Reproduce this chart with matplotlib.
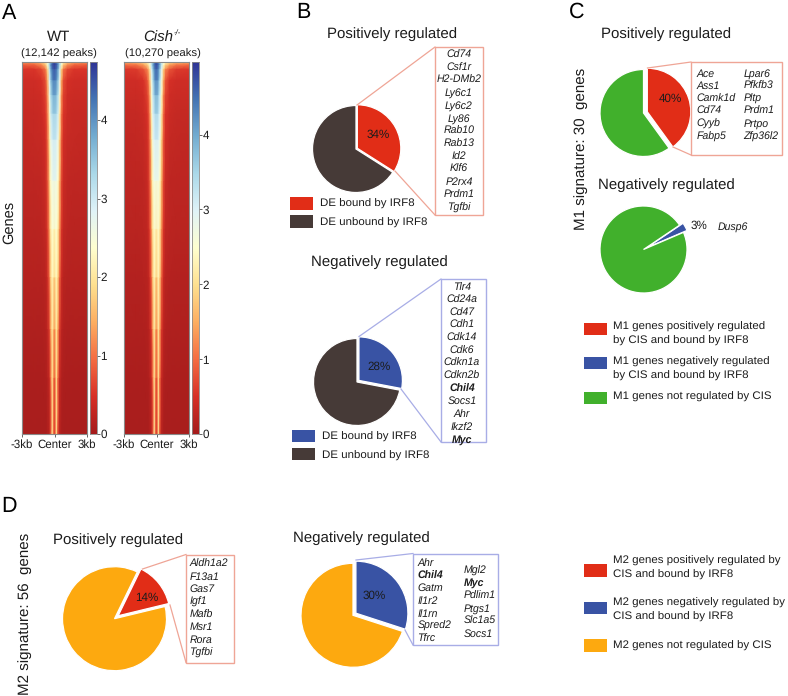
import numpy as np
import matplotlib
matplotlib.use("Agg")
import matplotlib.pyplot as plt
from matplotlib.colors import LinearSegmentedColormap
from matplotlib.patches import Rectangle

plt.rcParams["font.family"] = ["Liberation Sans", "DejaVu Sans"]
plt.rcParams["text.hinting"] = "no_hinting"
plt.rcParams["text.hinting_factor"] = 8

W, H = 788, 696
TXT = "#1c1c1c"
RED = "#E12D17"
BLUE = "#3953A4"
DARK = "#463A37"
GREEN = "#41B02C"
ORANGE = "#FDA90F"
RED_BOX = "#EFA596"
BLUE_BOX = "#A8ADE6"

# heatmap profiles: distance from the peak centre (kb), peak rank (0 top, 1 bottom)
offset_kb = [0, 0.09, 0.2, 0.32, 0.46, 0.65, 0.83, 1.2, 1.85, 3.0]
rank = [0, 0.008, 0.02, 0.05, 0.09, 0.14, 0.21, 0.32, 0.45, 0.58, 0.72, 0.85, 1.0]
wt_signal = [
    [4.5, 4.4, 4.2, 3.8, 3.2, 2.5, 2.0, 1.6, 1.3, 1.2],
    [4.7, 4.6, 4.5, 4.1, 3.4, 2.4, 1.7, 1.2, 0.9, 0.85],
    [4.5, 4.4, 4.3, 3.9, 3.1, 1.8, 1.0, 0.65, 0.5, 0.5],
    [4.2, 4.2, 4.0, 3.6, 2.8, 1.4, 0.7, 0.45, 0.4, 0.4],
    [3.8, 3.8, 3.6, 3.3, 2.5, 1.2, 0.6, 0.4, 0.36, 0.36],
    [3.4, 3.4, 3.3, 3.0, 2.2, 1.0, 0.5, 0.36, 0.33, 0.32],
    [3.0, 3.0, 2.9, 2.7, 1.9, 0.85, 0.42, 0.32, 0.3, 0.28],
    [2.7, 2.7, 2.6, 2.4, 1.6, 0.7, 0.36, 0.27, 0.25, 0.25],
    [2.2, 2.3, 2.4, 2.1, 1.3, 0.55, 0.28, 0.22, 0.2, 0.2],
    [1.8, 2.0, 2.2, 1.8, 0.95, 0.38, 0.2, 0.16, 0.15, 0.15],
    [1.2, 1.5, 2.0, 1.4, 0.6, 0.25, 0.14, 0.1, 0.1, 0.1],
    [0.8, 1.2, 1.9, 1.0, 0.35, 0.14, 0.09, 0.07, 0.07, 0.07],
    [0.5, 0.9, 1.9, 0.7, 0.2, 0.08, 0.05, 0.05, 0.05, 0.05],
]
cish_signal = [
    [4.7, 4.6, 4.3, 3.7, 3.1, 2.6, 2.2, 1.9, 1.6, 1.5],
    [4.8, 4.7, 4.5, 4.0, 3.3, 2.5, 1.9, 1.4, 1.1, 1.0],
    [4.6, 4.5, 4.3, 3.7, 3.0, 1.9, 1.2, 0.8, 0.6, 0.55],
    [4.3, 4.3, 4.0, 3.4, 2.7, 1.5, 0.8, 0.5, 0.42, 0.42],
    [3.9, 3.9, 3.6, 3.2, 2.4, 1.2, 0.65, 0.42, 0.37, 0.37],
    [3.5, 3.5, 3.3, 3.0, 2.2, 1.0, 0.52, 0.37, 0.33, 0.33],
    [3.1, 3.1, 3.0, 2.7, 1.9, 0.85, 0.43, 0.32, 0.3, 0.28],
    [2.7, 2.7, 2.7, 2.4, 1.6, 0.7, 0.36, 0.27, 0.25, 0.25],
    [2.2, 2.3, 2.4, 2.1, 1.3, 0.55, 0.28, 0.22, 0.2, 0.2],
    [1.8, 2.0, 2.3, 1.8, 0.95, 0.38, 0.2, 0.16, 0.15, 0.15],
    [1.2, 1.5, 2.1, 1.4, 0.6, 0.25, 0.14, 0.1, 0.1, 0.1],
    [0.8, 1.2, 2.0, 1.0, 0.35, 0.14, 0.09, 0.07, 0.07, 0.07],
    [0.5, 0.9, 2.0, 0.7, 0.2, 0.08, 0.05, 0.05, 0.05, 0.05],
]
wt_vmax = 4.74
cish_vmax = 4.97
cbar_ticks = [0, 1, 2, 3, 4]

# pie shares (%)
b_pos = [34, 66]
b_neg = [28, 72]
c_pos = [40, 60]
c_neg = [3, 97]
d_pos = [14, 86]
d_neg = [30, 70]

# gene lists
b_pos_genes = ["Cd74", "Csf1r", "H2-DMb2", "Ly6c1", "Ly6c2", "Ly86", "Rab10", "Rab13",
               "Id2", "Klf6", "P2rx4", "Prdm1", "Tgfbi"]
b_neg_genes = ["Tlr4", "Cd24a", "Cd47", "Cdh1", "Cdk14", "Cdk6", "Cdkn1a", "Cdkn2b",
               "Chil4", "Socs1", "Ahr", "Ikzf2", "Myc"]
c_pos_left = ["Ace", "Ass1", "Camk1d", "Cd74", "Cyyb", "Fabp5"]
c_pos_right = ["Lpar6", "Pfkfb3", "Pltp", "Prdm1", "Prtpo", "Zfp36l2"]
d_pos_genes = ["Aldh1a2", "F13a1", "Gas7", "Igf1", "Mafb", "Msr1", "Rora", "Tgfbi"]
d_neg_left = ["Ahr", "Chil4", "Gatm", "Il1r2", "Il1rn", "Spred2", "Tfrc"]
d_neg_right = ["Mgl2", "Myc", "Pdlim1", "Ptgs1", "Slc1a5", "Socs1"]
bold_genes = ["Chil4", "Myc"]

cmap = LinearSegmentedColormap.from_list(
    "peaks",
    ["#A51C1C", "#D73027", "#F46D43", "#FDAE61", "#FEE090", "#FFFFD0",
     "#E0F3F8", "#ABD9E9", "#74ADD1", "#4575B4", "#2F3596"],
)

fig = plt.figure(figsize=(W / 100, H / 100), dpi=100)


def px_axes(x0, y0, x1, y1):
    return fig.add_axes([x0 / W, 1 - y1 / H, (x1 - x0) / W, (y1 - y0) / H])


def heatmap(signal, vmax, x0, cb_x0):
    ax = px_axes(x0, 62, x0 + 65, 434)
    half = np.array(signal)
    grid = np.hstack([half[:, :0:-1], half])
    off = np.array(offset_kb)
    xs = np.concatenate([-off[:0:-1], off])
    ax.pcolormesh(xs, rank, grid, cmap=cmap, vmin=0, vmax=vmax, shading="gouraud")
    ax.set_xlim(-3, 3)
    ax.set_ylim(1, 0)
    ax.set_yticks([])
    ax.set_xticks([-3, 0, 3])
    ax.set_xticklabels(["-3kb", "Center", "3kb"], fontsize=8.3, color=TXT)
    ax.tick_params(axis="x", length=2, width=0.7, color="#666666", pad=1.5)
    for s in ax.spines.values():
        s.set_color("#8a8a8a")
        s.set_linewidth(0.8)

    cb = px_axes(cb_x0, 62, cb_x0 + 6.5, 434)
    levels = np.linspace(0, vmax, 256).reshape(-1, 1)
    cb.imshow(levels, cmap=cmap, vmin=0, vmax=vmax, origin="lower", aspect="auto",
              extent=[0, 1, 0, vmax])
    cb.set_xticks([])
    cb.yaxis.tick_right()
    cb.set_yticks(cbar_ticks)
    cb.tick_params(axis="y", length=2, width=0.7, color="#666666", pad=0.8,
                   labelsize=8.4, labelcolor=TXT)
    for s in cb.spines.values():
        s.set_color("#8a8a8a")
        s.set_linewidth(0.6)


heatmap(wt_signal, wt_vmax, 22, 90)
heatmap(cish_signal, cish_vmax, 124, 192)

# everything else sits on one overlay in picture pixels (y flipped for the pies)
ax = fig.add_axes([0, 0, 1, 1])
ax.set_xlim(0, W)
ax.set_ylim(0, H)
ax.set_autoscale_on(False)


def txt(x, y, s, size=8.25, ha="left", **kw):
    kw.setdefault("color", TXT)
    return ax.text(x, H - y, s, fontsize=size, ha=ha, va="center", **kw)


def pie(values, colors, cx, cy, r, explode, start=0):
    # explode is in axis units here, so pixels
    ax.pie(values, colors=colors, explode=[explode, 0], center=(cx, H - cy), radius=r,
           startangle=90 - start, counterclock=False, frame=True,
           wedgeprops={"edgecolor": "white", "linewidth": 0.9})


def callout(x0, y0, x1, y1, color, p_top, p_bot):
    ax.add_patch(Rectangle((x0, H - y1), x1 - x0, y1 - y0, fill=False, edgecolor=color, lw=1.0))
    ax.plot([p_top[0], x0], [H - p_top[1], H - y0], color=color, lw=0.9)
    ax.plot([p_bot[0], x0], [H - p_bot[1], H - y1], color=color, lw=0.9)


def genes(names, x, y, step, ha="left"):
    for i, g in enumerate(names):
        txt(x, y + i * step, g, size=7.6, ha=ha, style="italic",
            weight="bold" if g in bold_genes else "normal")


def swatch(x, y0, y1, color):
    ax.add_patch(Rectangle((x, H - y1), 23, y1 - y0, facecolor=color, edgecolor="none"))


# panel letters
for letter, x, y in [("A", 9, 13), ("B", 303, 12), ("C", 577, 12), ("D", 9, 506)]:
    txt(x, y, letter, size=15.5, ha="center", color="black")

# A
txt(59, 37.5, "WT", size=10.8, ha="center")
txt(58.5, 53.5, "(12,142 peaks)", size=8.2, ha="center")
txt(143.5, 38, "Cish", size=10.8, style="italic")
txt(173.5, 33, "-/-", size=5.5, style="italic")
txt(162.5, 53.5, "(10,270 peaks)", size=8.2, ha="center")
txt(9.5, 222, "Genes", size=10.5, ha="center", rotation=90)

# B
txt(392, 34, "Positively regulated", size=10.8, ha="center")
pie(b_pos, [RED, DARK], 356, 149, 43.5, 1.5)
txt(378, 135, f"{b_pos[0]}%", size=8.4, ha="center")
callout(435, 47, 483, 215, RED_BOX, (357, 105), (395, 171))
genes(b_pos_genes, 459, 55, 12.7, ha="center")
swatch(290, 197, 210, RED)
swatch(290, 215, 228, DARK)
txt(320.5, 203.5, "DE bound by IRF8")
txt(320.5, 223, "DE unbound by IRF8")

txt(379, 262, "Negatively regulated", size=10.8, ha="center")
pie(b_neg, [BLUE, DARK], 357, 382, 43.5, 2.5)
txt(379.5, 366.5, f"{b_neg[0]}%", size=8.4, ha="center")
callout(441, 279, 486, 442, BLUE_BOX, (359, 336.5), (401, 389))
genes(b_neg_genes, 462, 287.5, 12.67, ha="center")
swatch(292, 430, 442, BLUE)
swatch(292, 448, 460, DARK)
txt(322.5, 436.5, "DE bound by IRF8")
txt(322.5, 456, "DE unbound by IRF8")

# C
txt(581.5, 149, "M1 signature: 30  genes", size=10.9, ha="center", rotation=90)
txt(666, 34, "Positively regulated", size=10.8, ha="center")
pie(c_pos, [RED, GREEN], 643.5, 113, 43.5, 4)
txt(670, 99, f"{c_pos[0]}%", size=8.4, ha="center")
callout(691, 62, 782, 155, RED_BOX, (647.5, 68), (673, 147))
genes(c_pos_left, 696.5, 74, 12.5)
genes(c_pos_right, 743.5, 74, 12.5)

txt(666, 185.5, "Negatively regulated", size=10.8, ha="center")
pie(c_neg, [BLUE, GREEN], 643.5, 249.5, 43.5, 4, start=56)
txt(698.5, 226, f"{c_neg[0]}%", size=8.4, ha="center")
txt(732.5, 226.5, "Dusp6", size=7.6, ha="center", style="italic")

swatch(584, 323, 335, RED)
swatch(584, 357, 369, BLUE)
swatch(584, 392, 404, GREEN)
txt(613.5, 326.5, "M1 genes positively regulated")
txt(613.5, 341, "by CIS and bound by IRF8")
txt(613.5, 361.5, "M1 genes negatively regulated")
txt(613.5, 376, "by CIS and bound by IRF8")
txt(613.5, 396.5, "M1 genes not regulated by CIS")

# D
txt(25, 614, "M2 signature: 56  genes", size=10.9, ha="center", rotation=90)
txt(118.5, 540, "Positively regulated", size=10.8, ha="center")
pie(d_pos, [RED, ORANGE], 114.5, 618.7, 52, 4.7, start=26)
txt(147, 597.5, f"{d_pos[0]}%", size=8.4, ha="center")
callout(186, 554.5, 234, 662.5, RED_BOX, (142.5, 569), (170, 605))
genes(d_pos_genes, 189.5, 564, 12.67)

txt(361, 538, "Negatively regulated", size=10.8, ha="center")
pie(d_neg, [BLUE, ORANGE], 353, 615.3, 52, 3.6)
txt(374.5, 595.5, f"{d_neg[0]}%", size=8.4, ha="center")
callout(413, 553.5, 498.5, 645, BLUE_BOX, (356, 560), (405, 630))
genes(d_neg_left, 417.5, 563.3, 12.6)
genes(d_neg_right, 463.7, 570.7, 12.67)

swatch(584, 564, 577, RED)
swatch(584, 602, 614, BLUE)
swatch(584, 639, 652, ORANGE)
txt(613.5, 561, "M2 genes positively regulated by")
txt(613.5, 575.3, "CIS and bound by IRF8")
txt(613.5, 602.7, "M2 genes negatively regulated by")
txt(613.5, 616.7, "CIS and bound by IRF8")
txt(613.5, 646, "M2 genes not regulated by CIS")

ax.axis("off")
fig.savefig("out.png", dpi=100)
